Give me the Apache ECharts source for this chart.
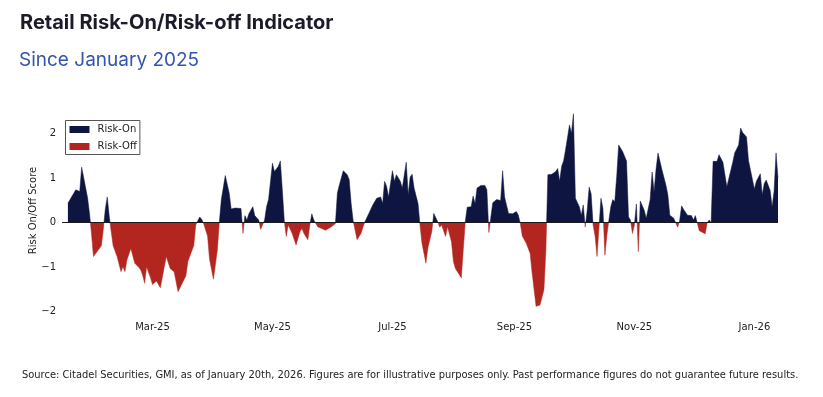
<!DOCTYPE html>
<html>
<head>
<meta charset="utf-8">
<script src="https://cdn.jsdelivr.net/npm/echarts@6/dist/echarts.min.js"></script>
<style>
  html, body { margin: 0; padding: 0; background: #fff; }
  #chart { width: 823px; height: 397px; }
</style>
</head>
<body>
<div id="chart"></div>
<script>
// daily score
var dates = [
  '2025-01-17','2025-01-21','2025-01-22','2025-01-23','2025-01-24','2025-01-27','2025-01-28','2025-01-29','2025-01-30','2025-01-31',
  '2025-02-03','2025-02-04','2025-02-05','2025-02-06','2025-02-07','2025-02-08','2025-02-09','2025-02-11','2025-02-13','2025-02-14','2025-02-15','2025-02-16','2025-02-18','2025-02-20','2025-02-21','2025-02-22','2025-02-23','2025-02-24','2025-02-25','2025-02-26','2025-02-28',
  '2025-03-01','2025-03-03','2025-03-05','2025-03-06','2025-03-08','2025-03-10','2025-03-12','2025-03-14','2025-03-18','2025-03-19','2025-03-20','2025-03-22','2025-03-23','2025-03-25','2025-03-26','2025-03-27','2025-03-29','2025-03-30',
  '2025-04-01','2025-04-02','2025-04-03','2025-04-04','2025-04-05','2025-04-07','2025-04-08','2025-04-09','2025-04-10','2025-04-12','2025-04-15','2025-04-16','2025-04-17','2025-04-18','2025-04-19','2025-04-21','2025-04-22','2025-04-24','2025-04-25','2025-04-27','2025-04-28','2025-04-29',
  '2025-05-01','2025-05-02','2025-05-04','2025-05-05','2025-05-06','2025-05-07','2025-05-08','2025-05-09','2025-05-11','2025-05-13','2025-05-15','2025-05-16','2025-05-17','2025-05-19','2025-05-20','2025-05-21','2025-05-22','2025-05-24','2025-05-26','2025-05-28','2025-05-29','2025-05-31',
  '2025-06-02','2025-06-03','2025-06-04','2025-06-06','2025-06-08','2025-06-09','2025-06-10','2025-06-11','2025-06-13','2025-06-15','2025-06-16','2025-06-17','2025-06-19','2025-06-21','2025-06-23','2025-06-25','2025-06-26','2025-06-27','2025-06-28','2025-06-29',
  '2025-07-01','2025-07-02','2025-07-03','2025-07-05','2025-07-06','2025-07-08','2025-07-09','2025-07-10','2025-07-11','2025-07-12','2025-07-14','2025-07-15','2025-07-16','2025-07-18','2025-07-19','2025-07-21','2025-07-22','2025-07-23','2025-07-24','2025-07-25','2025-07-26','2025-07-27','2025-07-28','2025-07-29','2025-07-31',
  '2025-08-01','2025-08-02','2025-08-05','2025-08-06','2025-08-07','2025-08-08','2025-08-09','2025-08-10','2025-08-11','2025-08-12','2025-08-13','2025-08-15','2025-08-17','2025-08-18','2025-08-19','2025-08-20','2025-08-21','2025-08-23','2025-08-24','2025-08-25','2025-08-26','2025-08-27','2025-08-29','2025-08-31',
  '2025-09-01','2025-09-02','2025-09-03','2025-09-04','2025-09-05','2025-09-07','2025-09-09','2025-09-10','2025-09-12','2025-09-14','2025-09-16','2025-09-17','2025-09-18','2025-09-20','2025-09-22','2025-09-23','2025-09-24','2025-09-25','2025-09-26','2025-09-27','2025-09-29','2025-09-30',
  '2025-10-01','2025-10-02','2025-10-03','2025-10-04','2025-10-05','2025-10-06','2025-10-07','2025-10-08','2025-10-09','2025-10-10','2025-10-11','2025-10-12','2025-10-13','2025-10-14','2025-10-15','2025-10-16','2025-10-17','2025-10-18','2025-10-19','2025-10-20','2025-10-21','2025-10-22','2025-10-23','2025-10-24','2025-10-26','2025-10-28','2025-10-29','2025-10-30','2025-10-31',
  '2025-11-01','2025-11-02','2025-11-03','2025-11-04','2025-11-06','2025-11-07','2025-11-09','2025-11-10','2025-11-11','2025-11-12','2025-11-13','2025-11-15','2025-11-17','2025-11-18','2025-11-19','2025-11-21','2025-11-22','2025-11-23','2025-11-24','2025-11-25','2025-11-26','2025-11-28','2025-11-30',
  '2025-12-01','2025-12-02','2025-12-03','2025-12-04','2025-12-05','2025-12-07','2025-12-08','2025-12-09','2025-12-10','2025-12-11','2025-12-13','2025-12-14','2025-12-16','2025-12-18','2025-12-21','2025-12-22','2025-12-24','2025-12-25','2025-12-26','2025-12-28','2025-12-29',
  '2026-01-01','2026-01-02','2026-01-04','2026-01-05','2026-01-06','2026-01-07','2026-01-09','2026-01-10','2026-01-11','2026-01-12','2026-01-13'
];
var scores = [
  0.44,0.74,0.75,0.70,1.25,0.56,0.2,-0.25,-0.76,-0.72,
  -0.52,-0.15,0.3,0.58,0.15,-0.2,-0.52,-0.76,-1.1,-0.99,-1.1,-0.84,-0.58,-0.91,-0.95,-1.0,-1.06,-1.18,-1.36,-0.99,-1.24,
  -1.39,-1.31,-1.46,-1.42,-0.76,-1.03,-1.1,-1.55,-1.19,-0.87,-0.9,-0.51,-0.05,0.13,0.08,-0.02,-0.3,-0.82,
  -1.27,-1.3,-0.6,0.02,0.52,1.06,1.04,0.67,0.31,0.33,0.32,-0.24,0.16,0.06,0.2,0.36,0.16,0.06,-0.15,0.06,0.36,0.52,
  1.34,1.15,1.27,1.39,0.74,0.05,-0.31,-0.05,-0.24,-0.5,-0.2,-0.13,-0.24,-0.38,-0.05,0.2,0.06,-0.09,-0.13,-0.17,-0.14,-0.09,
  -0.02,0.67,0.85,1.17,1.08,0.97,0.43,0.05,-0.38,-0.24,-0.1,0.02,0.21,0.4,0.55,0.58,0.43,0.93,0.82,0.58,
  1.17,0.93,1.08,0.93,0.78,1.36,0.63,1.03,1.09,0.78,0.43,-0.05,-0.46,-0.91,-0.57,-0.2,0.21,0.25,0.02,-0.1,-0.05,-0.03,-0.31,-0.09,-0.43,
  -0.88,-1.03,-1.24,-0.61,0.02,0.35,0.31,0.36,0.6,0.43,0.78,0.84,0.84,0.74,-0.22,-0.22,0.45,0.52,0.55,0.5,1.17,0.58,0.21,0.2,
  0.17,0.25,0.17,-0.02,-0.3,-0.46,-0.69,-1.13,-1.88,-1.85,-1.51,-0.61,1.08,1.09,1.15,1.22,0.93,1.27,1.39,1.64,2.2,2.01,
  2.45,0.55,0.52,0.36,0.17,0.4,-0.1,0.28,0.8,0.65,-0.05,-0.3,-0.76,-0.1,0.55,0.32,-0.73,-0.28,0.05,0.36,0.52,0.47,1.04,1.75,1.6,1.39,0.13,0.06,-0.24,
  -0.05,0.42,-0.65,0.49,0.28,0.1,0.52,1.14,0.7,1.2,1.57,1.19,0.85,0.63,0.17,0.1,0.0,-0.1,0.05,0.38,0.3,0.17,0.16,
  0.06,0.16,-0.02,-0.18,-0.22,-0.25,0.0,0.06,0.0,1.38,1.38,1.53,1.36,0.81,1.36,1.57,1.75,2.13,2.03,1.93,1.4,
  0.76,0.93,1.1,0.63,0.88,0.96,0.73,0.36,0.7,1.57,1.0
];

var tickDates = ['2025-03-01','2025-05-01','2025-07-01','2025-09-01','2025-11-01','2026-01-01'];
var tickLabels = ['Mar-25','May-25','Jul-25','Sep-25','Nov-25','Jan-26'];
var yTicks = [-2, -1, 0, 1, 2];

var colorOn = '#0d1540';
var colorOff = '#b2261f';
var axisFont = 'DejaVu Sans';

function toTime(d) { return echarts.number.parseDate(d).getTime(); }

var seriesData = [];
for (var i = 0; i < dates.length; i++) {
    seriesData.push([toTime(dates[i]), scores[i]]);
}
var tickTimes = tickDates.map(toTime);

var chart = echarts.init(document.getElementById('chart'), null, { renderer: 'canvas' });

var option = {
    backgroundColor: '#fff',
    animation: false,
    title: [
        {
            text: 'Retail Risk-On/Risk-off Indicator',
            left: 20, top: 13, padding: 0,
            textStyle: { fontFamily: 'Inter', fontWeight: 'bold', fontSize: 20, color: '#1b1b29' }
        },
        {
            text: 'Since January 2025',
            left: 19, top: 51, padding: 0,
            textStyle: { fontFamily: 'Inter', fontWeight: 'normal', fontSize: 19, color: '#3354b0' }
        },
        {
            text: 'Source: Citadel Securities, GMI, as of January 20th, 2026. Figures are for illustrative purposes only. Past performance figures do not guarantee future results.',
            left: 22, top: 370, padding: 0,
            textStyle: { fontFamily: "'Liberation Sans Narrow', 'DejaVu Sans Condensed', sans-serif", fontWeight: 'normal', fontSize: 11, color: '#222' }
        }
    ],
    grid: { left: 62, right: 45, top: 104, bottom: 80 },
    visualMap: {
        type: 'piecewise',
        seriesIndex: 0,
        dimension: 1,
        left: 65, top: 120,
        orient: 'vertical',
        itemWidth: 20, itemHeight: 7, itemGap: 7, textGap: 8,
        padding: [4, 3, 3, 4],
        borderColor: '#555', borderWidth: 1,
        backgroundColor: '#fff',
        itemSymbol: 'rect',
        textStyle: { fontFamily: axisFont, fontSize: 10, color: '#222' },
        pieces: [
            { min: 0, max: 3, color: colorOn, label: 'Risk-On' },
            { min: -3, max: 0, color: colorOff, label: 'Risk-Off' }
        ]
    },
    xAxis: {
        type: 'value',
        min: toTime('2025-01-14'),
        max: toTime('2026-01-13'),
        axisLine: { show: false, onZero: false },
        axisTick: { show: false },
        splitLine: { show: false },
        axisLabel: {
            customValues: tickTimes,
            margin: 5,
            fontFamily: axisFont, fontSize: 10, color: '#222',
            formatter: function (value) {
                var k = tickTimes.indexOf(value);
                return k >= 0 ? tickLabels[k] : '';
            }
        }
    },
    yAxis: {
        type: 'value',
        min: -2.12,
        max: 2.67,
        name: 'Risk On/Off Score',
        nameLocation: 'middle',
        nameGap: 24,
        nameMoveOverlap: false,
        nameTextStyle: { fontFamily: axisFont, fontSize: 10, color: '#222' },
        axisLine: { show: false },
        axisTick: { show: false },
        splitLine: { show: false },
        axisLabel: {
            customValues: yTicks,
            margin: 6,
            fontFamily: axisFont, fontSize: 10, color: '#222',
            formatter: function (v) { return v < 0 ? '\u2212' + Math.abs(v) : String(v); }
        }
    },
    series: [
        {
            name: 'Score',
            type: 'line',
            data: seriesData,
            showSymbol: false,
            symbol: 'none',
            lineStyle: { width: 0.5 },
            areaStyle: { opacity: 1 },
            markLine: {
                silent: true,
                symbol: 'none',
                label: { show: false },
                lineStyle: { color: '#1a1a1a', width: 1, type: 'solid' },
                data: [{ yAxis: 0 }]
            }
        }
    ]
};

chart.setOption(option);
window.onresize = chart.resize;
</script>
</body>
</html>
